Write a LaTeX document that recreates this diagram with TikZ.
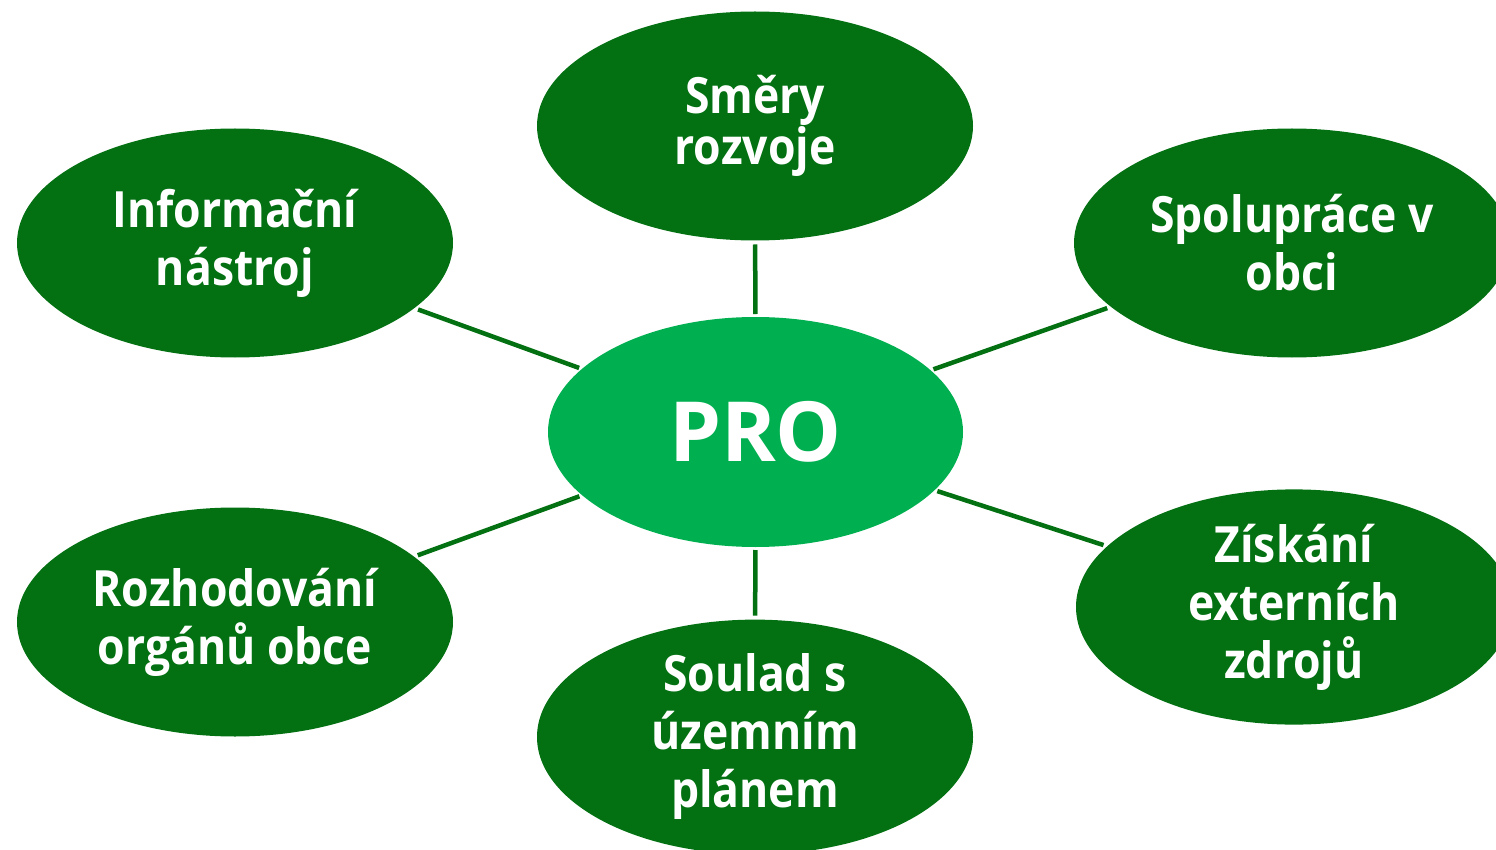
\documentclass[tikz,border=0pt]{standalone}
\usepackage{fontspec}
\setmainfont{Open Sans}[FakeStretch=0.89]
\newfontfamily\hubfont{Open Sans}
\usetikzlibrary{shapes.geometric}
\definecolor{darkg}{RGB}{3,112,18}
\definecolor{lightg}{RGB}{0,176,80}
\tikzset{
  leaf/.style={ellipse, fill=darkg, draw=none, inner sep=0pt, outer sep=0pt,
    minimum width=436pt, minimum height=229pt, text=white, align=center,
    font=\fontsize{50}{58}\selectfont\bfseries},
  hub/.style={ellipse, fill=lightg, draw=none, inner sep=0pt, outer sep=0pt,
    minimum width=415pt, minimum height=230pt, text=white,
    font=\hubfont\fontsize{83}{90}\selectfont\bfseries},
  link/.style={draw=darkg, line width=4.5pt, shorten <=4pt, shorten >=3pt}
}
\begin{document}
\begin{tikzpicture}[x=1pt,y=-1pt]
\useasboundingbox (0,0) rectangle (1496,850);
\clip (0,0) rectangle (1496,850);
\node[hub] (pro) at (755.5,432) {PRO};
\node[leaf, font=\fontsize{50}{48}\selectfont\bfseries] (smery) at (755,126) {Směry\\rozvoje};
\node[leaf] (info) at (235,243) {Informační\\nástroj};
\node[leaf] (spol) at (1292,243) {Spolupráce v\\obci};
\node[leaf] (rozh) at (235,622) {Rozhodování\\orgánů obce};
\node[leaf] (zisk) at (1294,607) {Získání\\externích\\zdrojů};
\node[leaf] (soul) at (755,737) {Soulad s\\územním\\plánem};
\draw[link] (smery) -- (pro);
\draw[link] (info) -- (pro);
\draw[link] (spol) -- (pro);
\draw[link] (rozh) -- (pro);
\draw[link] (zisk) -- (pro);
\draw[link] (soul) -- (pro);
\end{tikzpicture}
\end{document}
